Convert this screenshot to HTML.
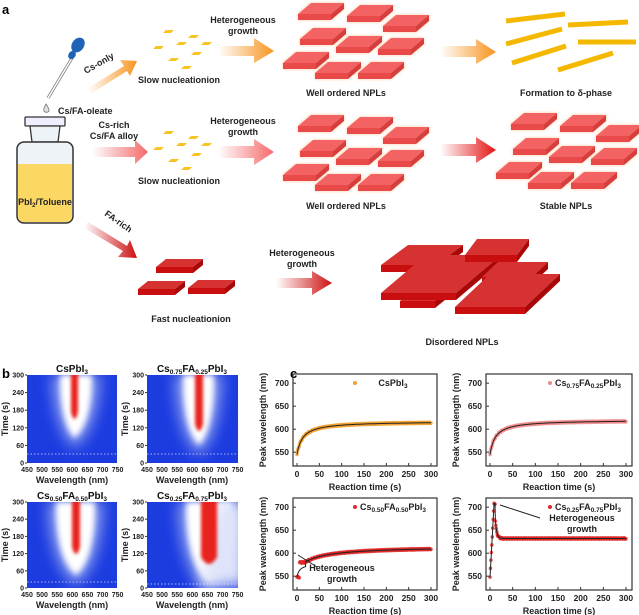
<!DOCTYPE html>
<html><head><meta charset="utf-8"><style>
html,body{margin:0;padding:0;background:#fff}
svg{display:block;font-family:"Liberation Sans",Arial,sans-serif}
.t{font-size:9px;font-weight:bold;fill:#222}
.tk{font-size:8.5px;font-weight:bold;fill:#222}
.hk{font-size:7px;font-weight:bold;fill:#222}
.ttl{font-size:10px;font-weight:bold;fill:#111}
</style></head><body>
<svg id="s" width="639" height="615" viewBox="0 0 639 615" xmlns="http://www.w3.org/2000/svg">
<defs>
<linearGradient id="gO" x1="0" x2="1"><stop offset="0" stop-color="#f7931e" stop-opacity="0"/><stop offset="1" stop-color="#f7931e"/></linearGradient>
<linearGradient id="gP" x1="0" x2="1"><stop offset="0" stop-color="#f46a6a" stop-opacity="0"/><stop offset="1" stop-color="#f46a6a"/></linearGradient>
<linearGradient id="gR" x1="0" x2="1"><stop offset="0" stop-color="#e41414" stop-opacity="0"/><stop offset="1" stop-color="#e41414"/></linearGradient>
<linearGradient id="gD" x1="0" x2="1"><stop offset="0" stop-color="#cc1010" stop-opacity="0"/><stop offset="1" stop-color="#cc1010"/></linearGradient>
<filter id="bl" x="-50%" y="-50%" width="200%" height="200%"><feGaussianBlur stdDeviation="3"/></filter>
<filter id="bl2" x="-50%" y="-50%" width="200%" height="200%"><feGaussianBlur stdDeviation="7"/></filter>
<filter id="bl1" x="-50%" y="-50%" width="200%" height="200%"><feGaussianBlur stdDeviation="1.5"/></filter>
<filter id="glow" x="-30%" y="-30%" width="160%" height="160%"><feGaussianBlur in="SourceAlpha" stdDeviation="1.5" result="b"/><feFlood flood-color="#f9a060" flood-opacity="0.6"/><feComposite in2="b" operator="in"/><feMerge><feMergeNode/><feMergeNode in="SourceGraphic"/></feMerge></filter>
<clipPath id="c1"><rect x="27" y="375" width="90" height="88"/></clipPath>
<clipPath id="c2"><rect x="147" y="375" width="91" height="88"/></clipPath>
<clipPath id="c3"><rect x="27" y="502" width="90" height="86"/></clipPath>
<clipPath id="c4"><rect x="147" y="502" width="91" height="86"/></clipPath>
</defs>
<g id="A"></g>
<text x="2" y="14" style="font-size:13px;font-weight:bold">a</text>
<line x1="72" y1="58" x2="48" y2="98" stroke="#777" stroke-width="3"/>
<line x1="72" y1="58" x2="48" y2="98" stroke="#fff" stroke-width="1.5"/>
<ellipse cx="78" cy="45" rx="6" ry="8" transform="rotate(35 78 45)" fill="#1e63b8"/>
<ellipse cx="72" cy="55" rx="3.5" ry="4.5" transform="rotate(35 72 55)" fill="#1e63b8"/>
<path d="M46 104 Q43 109 44 111 A3 3 0 0 0 49 111 Q49 108 46 104Z" fill="#ddd" stroke="#777" stroke-width="0.8"/>
<text class="t" x="58" y="114">Cs/FA-oleate</text>
<rect x="25" y="117" width="40" height="9" rx="1" fill="#eef" stroke="#333" stroke-width="1.3"/>
<path d="M30 126 L60 126 L58 142 L32 142Z" fill="#eef3f8" stroke="#333" stroke-width="1.3"/>
<rect x="17" y="142" width="56" height="81" rx="7" fill="#eef3f8" stroke="#333" stroke-width="1.5"/>
<path d="M18 164 L72 164 L72 216 Q72 222 66 222 L24 222 Q18 222 18 216Z" fill="#fbd864"/>
<text class="t" x="45" y="205" text-anchor="middle">PbI<tspan font-size="6" dy="2">2</tspan><tspan dy="-2">/Toluene</tspan></text>
<path d="M88 88 L124 66 L120 60 L137 61 L130 76 L127 71 L92 93Z" fill="url(#gO)"/>
<text class="t" transform="translate(86 74) rotate(-30)">Cs-only</text>
<text class="t" x="114" y="128" text-anchor="middle">Cs-rich</text>
<text class="t" x="114" y="139" text-anchor="middle">Cs/FA alloy</text>
<path d="M92 147 L135 147 L135 140 L148 152 L135 164 L135 157 L92 157Z" fill="url(#gP)"/>
<path d="M88 222 L127 246 L130 240 L137 258 L118 257 L123 251 L84 228Z" fill="url(#gD)"/>
<text class="t" transform="translate(104 215) rotate(35)">FA-rich</text>
<text class="t" x="243" y="23" text-anchor="middle">Heterogeneous</text>
<text class="t" x="243" y="34" text-anchor="middle">growth</text>
<path d="M218 46 L254 46 L254 38 L274 51 L254 63 L254 56 L218 56Z" fill="url(#gO)"/>
<text class="t" x="243" y="124" text-anchor="middle">Heterogeneous</text>
<text class="t" x="243" y="135" text-anchor="middle">growth</text>
<path d="M218 146 L254 146 L254 139 L274 152 L254 165 L254 158 L218 158Z" fill="url(#gP)"/>
<path d="M440 46 L476 46 L476 39 L496 52 L476 64 L476 57 L440 57Z" fill="url(#gO)"/>
<path d="M440 144 L476 144 L476 137 L496 150 L476 163 L476 156 L440 156Z" fill="url(#gR)"/>
<text class="t" x="302" y="256" text-anchor="middle">Heterogeneous</text>
<text class="t" x="302" y="267" text-anchor="middle">growth</text>
<path d="M276 278 L312 278 L312 271 L332 283 L312 295 L312 288 L276 288Z" fill="url(#gD)"/>
<text class="t" x="179" y="83" text-anchor="middle">Slow nucleationion</text>
<text class="t" x="179" y="184" text-anchor="middle">Slow nucleationion</text>
<text class="t" x="346" y="96" text-anchor="middle">Well ordered NPLs</text>
<text class="t" x="346" y="209" text-anchor="middle">Well ordered NPLs</text>
<text class="t" x="566" y="96" text-anchor="middle">Formation to δ-phase</text>
<text class="t" x="566" y="209" text-anchor="middle">Stable NPLs</text>
<text class="t" x="191" y="322" text-anchor="middle">Fast nucleationion</text>
<text class="t" x="462" y="345" text-anchor="middle">Disordered NPLs</text>
<g stroke="#f5b800" stroke-width="5" stroke-linecap="butt">
<line x1="506" y1="21" x2="565" y2="14"/><line x1="568" y1="25" x2="628" y2="22"/>
<line x1="506" y1="44" x2="562" y2="29"/><line x1="578" y1="42" x2="636" y2="42"/>
<line x1="512" y1="63" x2="566" y2="46"/><line x1="558" y1="70" x2="613" y2="53"/>
</g>
<text x="2" y="378" style="font-size:13px;font-weight:bold">b</text>
<text x="290" y="378" style="font-size:13px;font-weight:bold">c</text>
<g id="B"></g>
<g id="C"></g>
</svg>
<script>
var NS="http://www.w3.org/2000/svg";
function el(p,t,a,txt){var e=document.createElementNS(NS,t);for(var k in a)e.setAttribute(k,a[k]);if(txt!=null)e.textContent=txt;p.appendChild(e);return e;}
var A=document.getElementById('A'),B=document.getElementById('B'),C=document.getElementById('C');
function plate(g,x,y,w,dx,dy,h,cols,f){
 var gg=el(g,'g',f?{filter:f}:{});
 el(gg,'polygon',{points:[x,y+dy,x+w,y+dy,x+w+dx,y,x+dx,y].join(' '),fill:cols[0]});
 el(gg,'polygon',{points:[x,y+dy,x+w,y+dy,x+w,y+dy+h,x,y+dy+h].join(' '),fill:cols[1]});
 el(gg,'polygon',{points:[x+w,y+dy,x+w+dx,y,x+w+dx,y+h,x+w,y+dy+h].join(' '),fill:cols[2]});
}
var pk=['#f46464','#e84848','#d63c3c'];
function group(ox,oy){
 var P=[[15,2],[64,4],[100,14],[17,27],[53,35],[95,37],[0,51],[32,61],[75,61]];
 P.forEach(function(p){plate(A,ox+p[0],oy+p[1],33,13,11,6,pk,'url(#glow)');});
}
group(283,1);group(283,113);group(496,111);
function flakes(ox,oy){
 [[10,0],[35,5],[0,16],[23,12],[48,12],[15,28],[38,22],[28,36]].forEach(function(p){
  el(A,'polygon',{points:[ox+p[0],oy+p[1]+3,ox+p[0]+8,oy+p[1]+3,ox+p[0]+11,oy+p[1],ox+p[0]+3,oy+p[1]].join(' '),fill:'#f7c325'});});
}
flakes(153,30);flakes(153,131);
var dr=['#d63232','#c80e0e','#a80808'];
plate(A,156,259,37,10,8,6,dr);plate(A,138,281,37,10,8,6,dr);plate(A,188,280,37,10,8,6,dr);
plate(A,400,281,35,25,20,7,dr);plate(A,381,245,55,27,20,7,dr);plate(A,381,255,75,45,38,7,dr);
plate(A,465,239,52,12,16,7,dr);plate(A,482,262,50,16,15,7,dr);plate(A,455,274,70,35,33,7,dr);
var hm=[{x:27,y:375,h:88,core:[71,78],rb:420,wb:438,wl:60,wr:92,dl:454},
{x:147,y:375,h:88,core:[195,203],rb:432,wb:445,wl:183,wr:214,dl:454},
{x:27,y:502,h:86,core:[72,80],rb:555,wb:575,wl:56,wr:95,dl:582},
{x:147,y:502,h:86,core:[201,217],rb:565,wb:582,wl:186,wr:232,dl:584}];
hm.forEach(function(m,i){
 var g=el(B,'g',{'clip-path':'url(#c'+(i+1)+')'});
 el(g,'rect',{x:m.x,y:m.y,width:91,height:m.h,fill:'#1c3ce0'});
 var cx=(m.core[0]+m.core[1])/2;
 el(g,'path',{d:'M'+(m.wl-8)+' '+m.y+' L'+(m.wr+8)+' '+m.y+' Q'+(m.wr+6)+' '+(m.wb-10)+' '+cx+' '+(m.wb+10)+' Q'+(m.wl-6)+' '+(m.wb-10)+' '+(m.wl-8)+' '+m.y+'Z',fill:'#8ea0ee',filter:'url(#bl2)'});
 el(g,'path',{d:'M'+m.wl+' '+m.y+' L'+m.wr+' '+m.y+' Q'+m.wr+' '+(m.wb-15)+' '+cx+' '+m.wb+' Q'+m.wl+' '+(m.wb-15)+' '+m.wl+' '+m.y+'Z',fill:'#fff',filter:'url(#bl)'});
 if(i==3) el(g,'path',{d:'M217 502 L245 502 L245 586 L200 586 Z',fill:'#dfe4fa',filter:'url(#bl2)'});
 el(g,'path',{d:'M'+m.core[0]+' '+(m.y-5)+' L'+m.core[1]+' '+(m.y-5)+' L'+m.core[1]+' '+(m.rb-8)+' Q'+cx+' '+(m.rb+6)+' '+m.core[0]+' '+(m.rb-8)+'Z',fill:'#e8201a',filter:'url(#bl1)'});
 el(g,'line',{x1:m.x,x2:m.x+91,y1:m.dl,y2:m.dl,stroke:'#fff','stroke-dasharray':'1.5 2','stroke-width':0.8,opacity:0.8});
 var yb=m.y+m.h;
 for(var k=0;k<=5;k++){var yy=yb-k*m.h/5;el(B,'text',{x:m.x-3,y:yy+2.5,'class':'hk','text-anchor':'end'},String(k*60));el(B,'line',{x1:m.x-2,x2:m.x,y1:yy,y2:yy,stroke:'#333'});}
 for(var k=0;k<=6;k++){var xx=m.x+k*15.1;el(B,'text',{x:xx,y:yb+9,'class':'hk','text-anchor':'middle'},String(450+k*50));}
 el(B,'text',{x:m.x+45,y:yb+20,'class':'t','text-anchor':'middle'},'Wavelength (nm)');
 el(B,'text',{transform:'translate('+(m.x-19)+' '+(m.y+m.h/2)+') rotate(-90)','class':'t','text-anchor':'middle'},'Time (s)');
});
var T=[[72,372,'CsPbI','3',null],[192,372,'Cs','0.75','FA','0.25'],[72,499,'Cs','0.50','FA','0.50'],[192,499,'Cs','0.25','FA','0.75']];
function title(p,x,y,a,cls){var t=el(p,'text',{x:x,y:y,'class':cls||'ttl','text-anchor':'middle'});
 if(a[0]=='CsPbI'){t.innerHTML='CsPbI<tspan font-size="6.5" dy="2">3</tspan>';}
 else t.innerHTML='Cs<tspan font-size="6.5" dy="2">'+a[1]+'</tspan><tspan dy="-2">FA</tspan><tspan font-size="6.5" dy="2">'+a[3]+'</tspan><tspan dy="-2">PbI</tspan><tspan font-size="6.5" dy="2">3</tspan>';}
T.forEach(function(a){title(B,a[0],a[1],[a[2],a[3],a[4],a[5]]);});
var P=[{x:293,y:374,w:144,h:92,c:'#f0a030',lab:['CsPbI'],k:0},{x:486,y:374,w:146,h:92,c:'#f08a8a',lab:['Cs','0.75','FA','0.25'],k:1},
{x:293,y:498,w:144,h:92,c:'#e02828',lab:['Cs','0.50','FA','0.50'],k:2},{x:486,y:498,w:146,h:92,c:'#e02828',lab:['Cs','0.25','FA','0.75'],k:3}];
function f(k,t){
 if(k==0) return 545+72*t/(t+13);
 if(k==1) return 545+75*t/(t+12);
 if(k==2) return t<6?548:(t<18?580:575+40*(t-10)/(t+40));
 if(k==3){ if(t<12) return 548+160*Math.min(1,t/9); return 632+75*Math.exp(-(t-10)/3);}
}
P.forEach(function(p){
 var sx=function(t){return p.x+4+(t+0)*(p.w-10)/300;}, sy=function(v){return p.y+p.h-(v-520)*p.h/200;};
 var g=el(C,'g',{});
 for(var t=0;t<=300;t+=(t<30?1:1.5)){var v=f(p.k,t)+(Math.sin(t*7.3)*1.5);el(g,'circle',{cx:sx(t),cy:sy(v),r:1.8,fill:p.c,opacity:0.8});}
 var d='';for(var t=0;t<=300;t+=1){var v=f(p.k,t);if(p.k==2&&t<20)v=548+30*t/(t+6);d+=(t?'L':'M')+sx(t).toFixed(1)+' '+sy(v).toFixed(1);}
 el(g,'path',{d:d,fill:'none',stroke:'#222','stroke-width':1});
 el(C,'rect',{x:p.x,y:p.y,width:p.w,height:p.h,fill:'none',stroke:'#333','stroke-width':1.2});
 [550,600,650,700].forEach(function(v){el(C,'text',{x:p.x-4,y:sy(v)+3,'class':'tk','text-anchor':'end'},String(v));el(C,'line',{x1:p.x,x2:p.x+3,y1:sy(v),y2:sy(v),stroke:'#333'});});
 for(var t=0;t<=300;t+=50){el(C,'text',{x:sx(t),y:p.y+p.h+11,'class':'tk','text-anchor':'middle'},String(t));el(C,'line',{x1:sx(t),x2:sx(t),y1:p.y+p.h,y2:p.y+p.h-3,stroke:'#333'});}
 el(C,'text',{x:p.x+p.w/2,y:p.y+p.h+24,'class':'t','text-anchor':'middle'},'Reaction time (s)');
 el(C,'text',{transform:'translate('+(p.x-27)+' '+(p.y+p.h/2)+') rotate(-90)','class':'t','text-anchor':'middle'},'Peak wavelength (nm)');
 el(C,'circle',{cx:p.x+p.w-82,cy:p.y+9,r:2,fill:p.c});
 var l=p.lab; title(C,p.x+p.w-44,p.y+12,l.length==1?['CsPbI']:[l[0],l[1],l[2],l[3]],'t');
});
el(C,'text',{x:342,y:571,'class':'t','text-anchor':'middle'},'Heterogeneous');
el(C,'text',{x:342,y:582,'class':'t','text-anchor':'middle'},'growth');
el(C,'line',{x1:298,y1:555,x2:317,y2:567,stroke:'#222'});
el(C,'text',{x:582,y:521,'class':'t','text-anchor':'middle'},'Heterogeneous');
el(C,'text',{x:582,y:532,'class':'t','text-anchor':'middle'},'growth');
el(C,'line',{x1:500,y1:505,x2:540,y2:518,stroke:'#222'});
</script>
</body></html>
